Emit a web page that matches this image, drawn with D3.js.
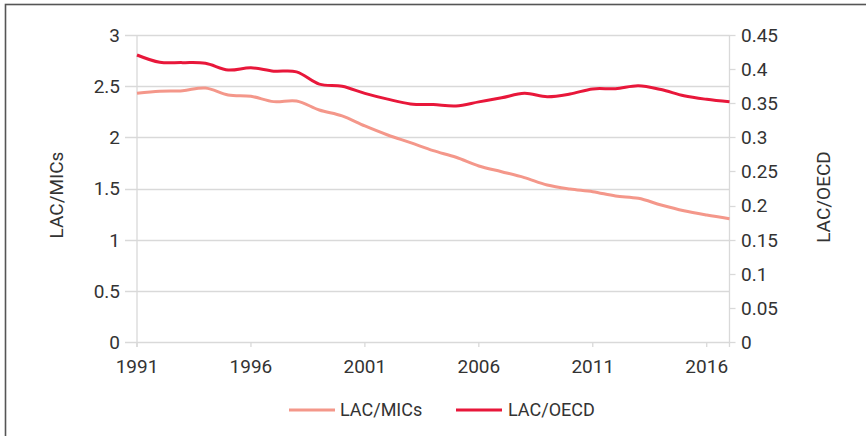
<!DOCTYPE html>
<html><head><meta charset="utf-8">
<script src="https://cdn.jsdelivr.net/npm/d3@7/dist/d3.min.js"></script>
<style>
html,body{margin:0;padding:0;background:#fff;}
text{font-family:Roboto,"Open Sans",sans-serif;fill:#333;}
</style></head>
<body>
<svg id="chart" width="866" height="436"></svg>
<script>
const years = [1991,1992,1993,1994,1995,1996,1997,1998,1999,2000,2001,2002,2003,2004,2005,2006,2007,2008,2009,2010,2011,2012,2013,2014,2015,2016,2017];
const lacMICs = [2.430,2.450,2.456,2.482,2.414,2.401,2.349,2.355,2.267,2.209,2.111,2.023,1.948,1.870,1.805,1.720,1.664,1.606,1.534,1.495,1.469,1.427,1.404,1.339,1.283,1.241,1.205];
const lacOECD = [0.4207,0.410,0.4095,0.4085,0.3987,0.402,0.397,0.396,0.378,0.375,0.3645,0.356,0.349,0.348,0.346,0.352,0.358,0.3645,0.3596,0.3635,0.371,0.3713,0.3757,0.370,0.361,0.3557,0.352];
const xTickLabels = [1991,1996,2001,2006,2011,2016];
const leftTicks = [0,0.5,1,1.5,2,2.5,3];
const rightTicks = [0,0.05,0.1,0.15,0.2,0.25,0.3,0.35,0.4,0.45];
const seriesNames = ["LAC/MICs","LAC/OECD"];
const colors = ["#F4978A","#E8173A"];

const svg = d3.select("#chart");
// outer frame
svg.append("rect").attr("x",5.5).attr("y",4.5).attr("width",900).attr("height",500)
  .attr("fill","none").attr("stroke","#555").attr("stroke-width",1.6);

const L = 137, R = 729.5, T = 35, B = 342;
const x = d3.scaleLinear().domain([1991,2017]).range([L,R]);
const yL = d3.scaleLinear().domain([0,3]).range([B,T]);
const yR = d3.scaleLinear().domain([0,0.45]).range([B,T]);

const grid = "#d9d9d9";
// horizontal gridlines (extend left as tick marks)
svg.append("g").selectAll("line").data(leftTicks).join("line")
  .attr("x1",125).attr("x2",R).attr("y1",d=>Math.round(yL(d))+0.5).attr("y2",d=>Math.round(yL(d))+0.5)
  .attr("stroke",grid).attr("stroke-width",1.3);
// left & right axis lines
svg.append("line").attr("x1",L).attr("x2",L).attr("y1",T).attr("y2",B+5).attr("stroke",grid).attr("stroke-width",1.3);
svg.append("line").attr("x1",R).attr("x2",R).attr("y1",T).attr("y2",B+5).attr("stroke",grid).attr("stroke-width",1.3);

// left axis labels
svg.append("g").selectAll("text").data(leftTicks).join("text")
  .attr("x",120).attr("y",d=>yL(d)).attr("dy","0.36em").attr("text-anchor","end")
  .attr("font-size",19).text(d=>d3.format("~g")(d));
// right axis ticks & labels
svg.append("g").selectAll("line").data(rightTicks).join("line")
  .attr("x1",R).attr("x2",R+6).attr("y1",d=>Math.round(yR(d))+0.5).attr("y2",d=>Math.round(yR(d))+0.5)
  .attr("stroke",grid).attr("stroke-width",1.3);
svg.append("g").selectAll("text").data(rightTicks).join("text")
  .attr("x",741).attr("y",d=>yR(d)).attr("dy","0.36em").attr("text-anchor","start")
  .attr("font-size",19).text(d=>d3.format("~g")(d));

// x ticks & labels
svg.append("g").selectAll("line").data(xTickLabels).join("line")
  .attr("x1",d=>x(d)).attr("x2",d=>x(d)).attr("y1",B).attr("y2",B+5)
  .attr("stroke",grid).attr("stroke-width",1.3);
svg.append("g").selectAll("text").data(xTickLabels).join("text")
  .attr("x",d=>x(d)).attr("y",373).attr("text-anchor","middle")
  .attr("font-size",19).text(d=>d);

// axis titles
svg.append("text").attr("transform","translate(63,195) rotate(-90)").attr("text-anchor","middle")
  .attr("font-size",19).text("LAC/MICs");
svg.append("text").attr("transform","translate(830,197) rotate(-90)").attr("text-anchor","middle")
  .attr("font-size",19).text("LAC/OECD");

// lines
const curve = d3.curveCatmullRom.alpha(0.5);
const lineL = d3.line().x((d,i)=>x(years[i])).y(d=>yL(d)).curve(curve);
const lineR = d3.line().x((d,i)=>x(years[i])).y(d=>yR(d)).curve(curve);
svg.append("path").attr("d",lineL(lacMICs)).attr("fill","none").attr("stroke",colors[0]).attr("stroke-width",3);
svg.append("path").attr("d",lineR(lacOECD)).attr("fill","none").attr("stroke",colors[1]).attr("stroke-width",3);

// legend
const lg = [{x:289,tx:340},{x:456,tx:508}];
seriesNames.forEach((n,i)=>{
  svg.append("line").attr("x1",lg[i].x).attr("x2",lg[i].x+46).attr("y1",410).attr("y2",410)
    .attr("stroke",colors[i]).attr("stroke-width",3);
  svg.append("text").attr("x",lg[i].tx).attr("y",410).attr("dy","0.36em").attr("font-size",18).text(n);
});
</script>
</body></html>
